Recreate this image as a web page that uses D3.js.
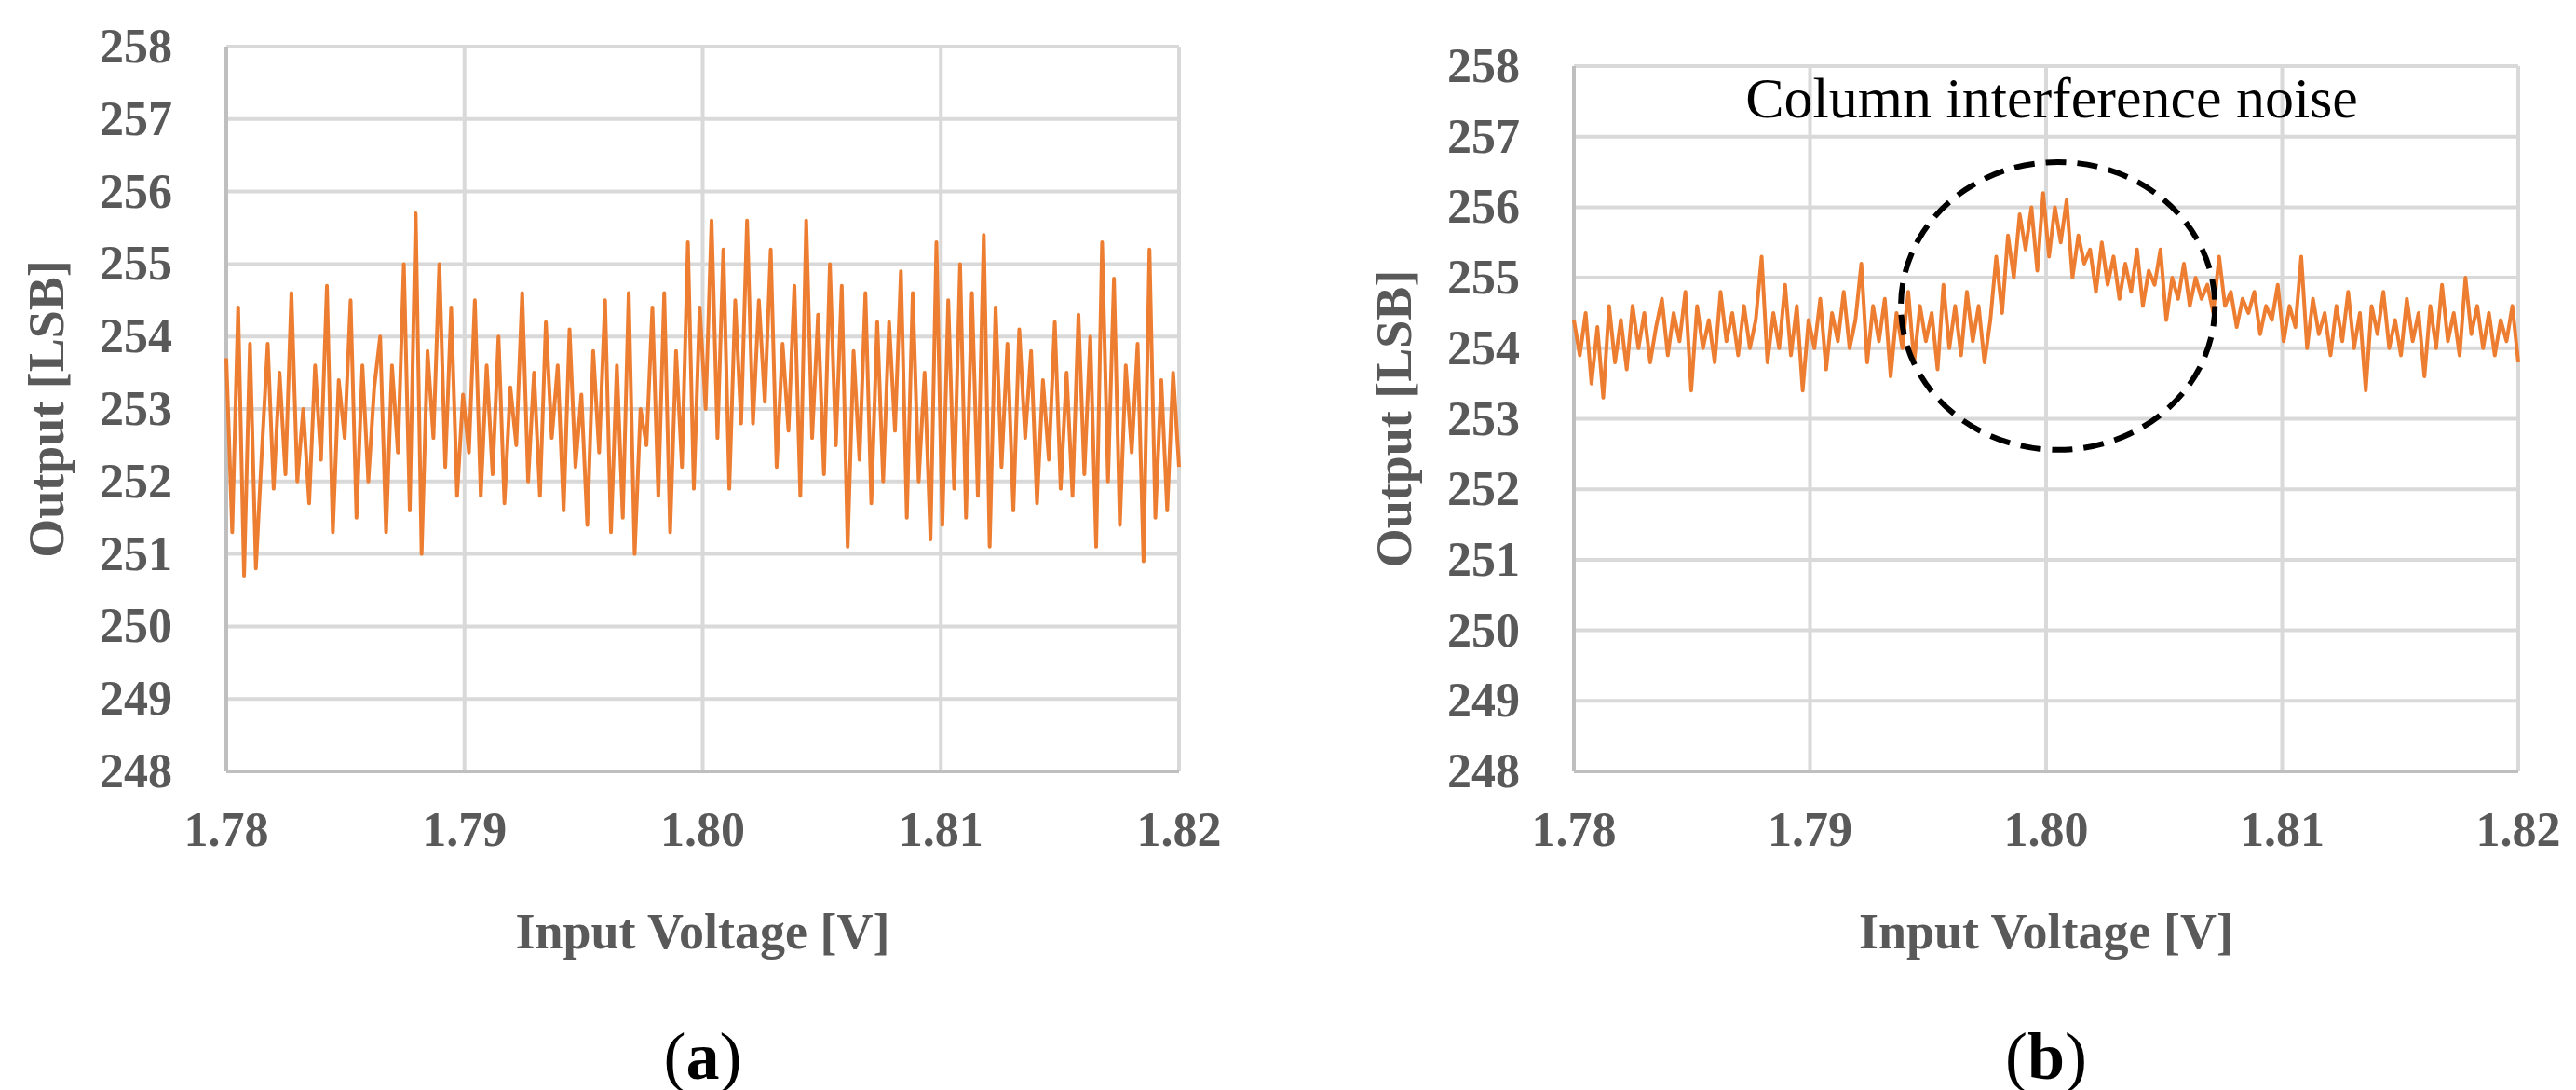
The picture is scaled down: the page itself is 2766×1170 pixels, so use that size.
<!DOCTYPE html>
<html><head><meta charset="utf-8">
<script src="https://cdn.jsdelivr.net/npm/d3@7"></script>
<style>body{margin:0;background:#fff}text{font-family:"Liberation Serif",serif}</style>
</head><body><svg id="chart" width="2766" height="1170"></svg>
<script>
const xTicks = [1.78, 1.79, 1.80, 1.81, 1.82];
const yTicks = [248, 249, 250, 251, 252, 253, 254, 255, 256, 257, 258];

const outputA = [253.7,251.3,254.4,250.7,253.9,250.8,252.4,253.9,251.9,253.5,252.1,254.6,252.0,253.0,251.7,253.6,252.3,254.7,251.3,253.4,252.6,254.5,251.5,253.6,252.0,253.3,254.0,251.3,253.6,252.4,255.0,251.6,255.7,251.0,253.8,252.6,255.0,252.2,254.4,251.8,253.2,252.4,254.5,251.8,253.6,252.1,254.0,251.7,253.3,252.5,254.6,252.0,253.5,251.8,254.2,252.6,253.6,251.6,254.1,252.2,253.2,251.4,253.8,252.4,254.5,251.3,253.6,251.5,254.6,251.0,253.0,252.5,254.4,251.8,254.6,251.3,253.8,252.2,255.3,251.9,254.4,253.0,255.6,252.6,255.2,251.9,254.5,252.8,255.6,252.8,254.5,253.1,255.2,252.2,253.9,252.7,254.7,251.8,255.6,252.6,254.3,252.1,255.0,252.5,254.7,251.1,253.8,252.3,254.6,251.7,254.2,252.0,254.2,252.7,254.9,251.5,254.6,252.0,253.5,251.2,255.3,251.4,254.5,251.9,255.0,251.5,254.6,251.8,255.4,251.1,254.4,252.2,253.9,251.6,254.1,252.6,253.8,251.7,253.4,252.3,254.2,251.9,253.5,251.8,254.3,252.1,254.0,251.1,255.3,252.0,254.8,251.4,253.6,252.4,253.9,250.9,255.2,251.5,253.4,251.6,253.5,252.2];

const outputB = [254.4,253.9,254.5,253.5,254.3,253.3,254.6,253.8,254.4,253.7,254.6,254.0,254.5,253.8,254.3,254.7,253.9,254.5,254.1,254.8,253.4,254.6,254.0,254.4,253.8,254.8,254.1,254.5,253.9,254.6,254.0,254.4,255.3,253.8,254.5,254.0,254.9,253.9,254.6,253.4,254.4,254.0,254.7,253.7,254.5,254.1,254.8,254.0,254.4,255.2,253.8,254.6,254.1,254.7,253.6,254.5,254.0,254.8,253.8,254.6,254.1,254.5,253.7,254.9,254.0,254.6,253.9,254.8,254.1,254.6,253.8,254.4,255.3,254.5,255.6,255.0,255.9,255.4,256.0,255.1,256.2,255.3,256.0,255.5,256.1,255.0,255.6,255.2,255.4,254.8,255.5,254.9,255.3,254.7,255.2,254.8,255.4,254.6,255.1,254.9,255.4,254.4,255.0,254.7,255.2,254.6,255.0,254.7,254.9,254.5,255.3,254.6,254.8,254.3,254.7,254.5,254.8,254.2,254.6,254.4,254.9,254.1,254.6,254.3,255.3,254.0,254.7,254.2,254.5,253.9,254.6,254.1,254.8,254.0,254.5,253.4,254.6,254.2,254.8,254.0,254.4,253.9,254.7,254.1,254.5,253.6,254.6,254.0,254.9,254.1,254.5,253.9,255.0,254.2,254.6,254.0,254.5,253.9,254.4,254.1,254.6,253.8];

const highlight = { cx: 1.8005, cy: 254.6, rx: 0.00665, ry: 2.04, label: "Column interference noise" };

const svg = d3.select("#chart");
const grey = "#595959";

function panel(values, box, tag, note) {
  const x = d3.scaleLinear().domain([1.78, 1.82]).range([box.left, box.right]);
  const y = d3.scaleLinear().domain([248, 258]).range([box.bottom, box.top]);
  const step = 0.04 / (values.length - 1);
  const g = svg.append("g");

  g.selectAll(".hg").data(yTicks).join("line")
    .attr("x1", box.left).attr("x2", box.right)
    .attr("y1", d => y(d)).attr("y2", d => y(d))
    .attr("stroke", "#d9d9d9").attr("stroke-width", 4);
  g.selectAll(".vg").data(xTicks).join("line")
    .attr("x1", d => x(d)).attr("x2", d => x(d))
    .attr("y1", box.top).attr("y2", box.bottom)
    .attr("stroke", "#d9d9d9").attr("stroke-width", 4);
  g.append("line").attr("x1", box.left).attr("x2", box.right)
    .attr("y1", box.bottom).attr("y2", box.bottom).attr("stroke", "#bfbfbf").attr("stroke-width", 4);
  g.append("line").attr("x1", box.left).attr("x2", box.left)
    .attr("y1", box.top).attr("y2", box.bottom).attr("stroke", "#bfbfbf").attr("stroke-width", 4);

  g.append("path").datum(values)
    .attr("fill", "none").attr("stroke", "#ed7d31").attr("stroke-width", 4)
    .attr("stroke-linejoin", "round")
    .attr("d", d3.line().x((d, i) => x(1.78 + i * step)).y(d => y(d)));

  g.selectAll(".yl").data(yTicks).join("text")
    .attr("x", box.left - 58).attr("y", d => y(d) + 17)
    .attr("text-anchor", "end").attr("font-size", 52).attr("font-weight", "bold")
    .attr("fill", grey).text(d => d);
  g.selectAll(".xl").data(xTicks).join("text")
    .attr("x", d => x(d)).attr("y", box.bottom + 80)
    .attr("text-anchor", "middle").attr("font-size", 52).attr("font-weight", "bold")
    .attr("fill", grey).text(d => d.toFixed(2));

  g.append("text").attr("transform", `translate(${box.left - 175},${(box.top + box.bottom) / 2}) rotate(-90)`)
    .attr("text-anchor", "middle").attr("font-size", 54).attr("font-weight", "bold")
    .attr("fill", grey).text("Output [LSB]");
  g.append("text").attr("x", (box.left + box.right) / 2).attr("y", box.bottom + 190)
    .attr("text-anchor", "middle").attr("font-size", 54).attr("font-weight", "bold")
    .attr("fill", grey).text("Input Voltage [V]");

  const t = g.append("text").attr("x", (box.left + box.right) / 2).attr("y", 1158)
    .attr("text-anchor", "middle").attr("font-size", 72).attr("fill", "#000");
  t.append("tspan").text("(");
  t.append("tspan").attr("font-weight", "bold").text(tag);
  t.append("tspan").text(")");

  if (note) {
    g.append("ellipse").attr("cx", x(note.cx)).attr("cy", y(note.cy))
      .attr("rx", x(note.cx + note.rx) - x(note.cx)).attr("ry", y(note.cy - note.ry) - y(note.cy))
      .attr("fill", "none").attr("stroke", "#000").attr("stroke-width", 6)
      .attr("stroke-dasharray", "22,12");
    g.append("text").attr("x", 2203).attr("y", 126).attr("text-anchor", "middle")
      .attr("font-size", 62).attr("fill", "#000").text(note.label);
  }
}

panel(outputA, { left: 243, right: 1266, top: 50, bottom: 828 }, "a", null);
panel(outputB, { left: 1690, right: 2704, top: 71, bottom: 828 }, "b", highlight);
</script></body></html>
